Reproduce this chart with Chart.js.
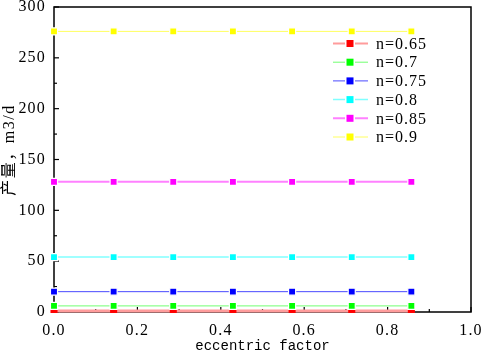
<!DOCTYPE html>
<html>
<head>
<meta charset="utf-8">
<script src="https://cdn.jsdelivr.net/npm/chart.js@4.4.1/dist/chart.umd.min.js"></script>
<style>
  html, body { margin: 0; padding: 0; background: #fff; }
  #wrap { width: 484px; height: 359px; }
</style>
</head>
<body>
<div id="wrap"><canvas id="chart"></canvas></div>
<script>
// eccentric factor values (x)
const factors = [0, 0.143, 0.286, 0.429, 0.571, 0.714, 0.857];

// production rate per n, m3/d
const n065 = [1, 1, 1, 1, 1, 1, 1];
const n07 = [6, 6, 6, 6, 6, 6, 6];
const n075 = [20, 20, 20, 20, 20, 20, 20];
const n08 = [54, 54, 54, 54, 54, 54, 54];
const n085 = [128, 128, 128, 128, 128, 128, 128];
const n09 = [276, 276, 276, 276, 276, 276, 276];

const seriesNames = ['n=0.65', 'n=0.7', 'n=0.75', 'n=0.8', 'n=0.85', 'n=0.9'];
const seriesValues = [n065, n07, n075, n08, n085, n09];
const markerColors = ['#ff0000', '#00ff00', '#0000ff', '#00ffff', '#ff00ff', '#ffff00'];
const lineColors = ['#ff9c9c', '#70ff70', '#4a4aff', '#80ffff', '#ff80ff', '#ffff60'];
const lineWidths = [3, 1, 1, 1.5, 2, 1];

const xTitle = 'eccentric factor';
const yTitle = '产量，m3/d';

const serif = '"Liberation Serif", "Noto Sans CJK SC", serif';

const datasets = seriesValues.map((vals, i) => ({
    label: seriesNames[i],
    data: factors.map((x, j) => ({ x: x, y: vals[j] })),
    borderColor: lineColors[i],
    borderWidth: lineWidths[i],
    pointStyle: 'rect',
    pointRadius: 5,
    pointBackgroundColor: markerColors[i],
    pointBorderColor: '#ffffff',
    pointBorderWidth: i === 0 ? 0 : 1.2,
    order: -i,
    clip: { left: 4, right: 4, top: 4, bottom: 1 }
}));

// frame, inward ticks, legend and axis titles
const framePlugin = {
    id: 'frame',
    beforeDraw(chart) {
        // wider spacing, like the original half-width font
        chart.ctx.letterSpacing = '1.2px';
    },
    beforeDatasetsDraw(chart) {
        const { ctx, chartArea: a, scales } = chart;
        ctx.save();
        ctx.strokeStyle = '#000';
        ctx.lineWidth = 1.5;
        ctx.strokeRect(a.left, a.top, a.right - a.left, a.bottom - a.top);

        ctx.lineWidth = 1.2;
        const xt = scales.x.ticks.map(t => t.value);
        xt.forEach((v, k) => {
            const px = scales.x.getPixelForValue(v);
            ctx.beginPath(); ctx.moveTo(px, a.bottom); ctx.lineTo(px, a.bottom - 5); ctx.stroke();
            if (k < xt.length - 1) {
                const mx = scales.x.getPixelForValue((v + xt[k + 1]) / 2);
                ctx.beginPath(); ctx.moveTo(mx, a.bottom); ctx.lineTo(mx, a.bottom - 3); ctx.stroke();
            }
        });
        const yt = scales.y.ticks.map(t => t.value);
        yt.forEach((v, k) => {
            const py = scales.y.getPixelForValue(v);
            ctx.beginPath(); ctx.moveTo(a.left, py); ctx.lineTo(a.left + 5, py); ctx.stroke();
            if (k < yt.length - 1) {
                const my = scales.y.getPixelForValue((v + yt[k + 1]) / 2);
                ctx.beginPath(); ctx.moveTo(a.left, my); ctx.lineTo(a.left + 3, my); ctx.stroke();
            }
        });
        ctx.restore();
    },
    afterDraw(chart) {
        const { ctx, chartArea: a } = chart;
        ctx.save();
        ctx.letterSpacing = '1px';
        ctx.font = '16px ' + serif;
        ctx.textBaseline = 'middle';
        chart.data.datasets.forEach((ds, i) => {
            const y = 43.5 + i * 18.7;
            ctx.strokeStyle = ds.borderColor;
            ctx.lineWidth = Math.min(ds.borderWidth, 2);
            ctx.beginPath(); ctx.moveTo(333, y); ctx.lineTo(368, y); ctx.stroke();
            ctx.fillStyle = '#fff';
            ctx.fillRect(345, y - 5, 10, 10);
            ctx.fillStyle = ds.pointBackgroundColor;
            ctx.fillRect(346.5, y - 3.5, 7, 7);
            ctx.fillStyle = '#000';
            ctx.fillText(ds.label, 376, y + 1);
        });

        // y title, rotated
        ctx.save();
        ctx.translate(10, 150);
        ctx.rotate(-Math.PI / 2);
        ctx.textAlign = 'center';
        ctx.letterSpacing = '1.5px';
        ctx.fillText(yTitle, 0, 0);
        ctx.restore();

        ctx.letterSpacing = '0px';
        ctx.font = '14px "Liberation Mono", monospace';
        ctx.textAlign = 'center';
        ctx.fillText(xTitle, (a.left + a.right) / 2, 346);
        ctx.restore();
    }
};

new Chart(document.getElementById('chart').getContext('2d'), {
    type: 'line',
    data: { datasets: datasets },
    options: {
        responsive: true,
        maintainAspectRatio: false,
        animation: false,
        layout: { padding: { top: 7, right: 13, left: 0, bottom: 0 } },
        plugins: { legend: { display: false }, tooltip: { enabled: false } },
        scales: {
            x: {
                type: 'linear',
                min: 0,
                max: 1,
                grid: { display: false, drawTicks: false },
                border: { display: false },
                ticks: {
                    stepSize: 0.2,
                    padding: 9,
                    color: '#000',
                    font: { family: serif, size: 16 },
                    maxRotation: 0,
                    callback: v => v.toFixed(1)
                },
                afterFit(s) { s.height = 47; s.paddingLeft = 0; s.paddingRight = 0; }
            },
            y: {
                min: 0,
                max: 300,
                grid: { display: false, drawTicks: false },
                border: { display: false },
                ticks: {
                    stepSize: 50,
                    padding: 8,
                    color: '#000',
                    font: { family: serif, size: 16 }
                },
                afterFit(s) { s.width = 54; s.paddingTop = 0; s.paddingBottom = 0; }
            }
        }
    },
    plugins: [framePlugin]
});
</script>
</body>
</html>
